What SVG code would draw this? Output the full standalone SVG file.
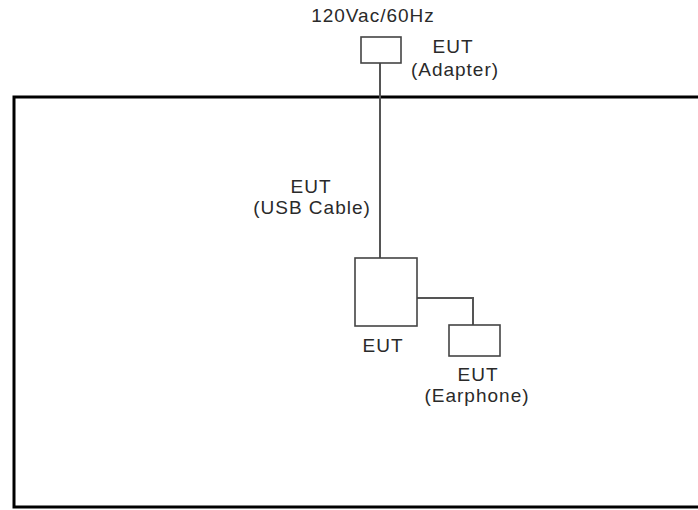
<svg xmlns="http://www.w3.org/2000/svg" width="698" height="510" viewBox="0 0 698 510">
<style>
.t{font-family:"Liberation Sans",Arial,sans-serif;font-size:19px;fill:#2a2a2a;text-anchor:middle;letter-spacing:1px}
.b{fill:#fff;stroke:#444;stroke-width:1.6}
.c{fill:none;stroke:#555;stroke-width:2}
</style>
<rect width="698" height="510" fill="#fff"/>
<g id="frame"><path d="M702,97 H14 V507 H702" fill="none" stroke="#000" stroke-width="3"/></g>
<g id="connectors">
<line class="c" x1="380" y1="63" x2="380" y2="258"/>
<polyline class="c" points="417,298 473,298 473,325"/>
</g>
<g id="adapter">
<rect class="b" x="361" y="37" width="40" height="26"/>
<text class="t" x="373" y="22">120Vac/60Hz</text>
<text class="t" x="453" y="53">EUT</text>
<text class="t" x="455" y="76">(Adapter)</text>
</g>
<g id="usb">
<text class="t" x="311" y="193">EUT</text>
<text class="t" x="312" y="214">(USB Cable)</text>
</g>
<g id="eut">
<rect class="b" x="355" y="258" width="62" height="68"/>
<text class="t" x="383" y="352">EUT</text>
</g>
<g id="earphone">
<rect class="b" x="449" y="325" width="51" height="31"/>
<text class="t" x="478" y="381">EUT</text>
<text class="t" x="477" y="402">(Earphone)</text>
</g>
</svg>
